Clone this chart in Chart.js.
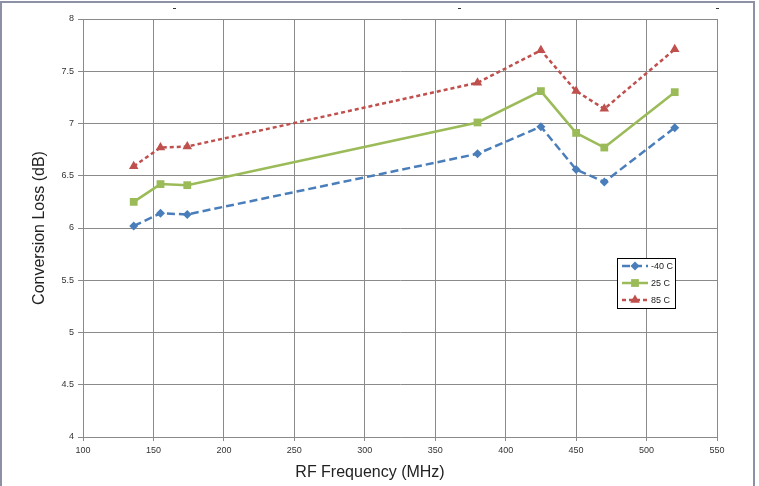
<!DOCTYPE html>
<html>
<head>
<meta charset="utf-8">
<script src="https://cdn.jsdelivr.net/npm/chart.js@4.4.1/dist/chart.umd.min.js"></script>
<style>
  html, body { margin: 0; padding: 0; background: #fff; }
  #wrap { width: 759px; height: 486px; position: relative; }
</style>
</head>
<body>
<div id="wrap"><canvas id="myChart"></canvas></div>
<script>
// values
const freqs = [136, 155, 174, 380, 425, 450, 470, 520];
const lossCold = [6.02, 6.14, 6.13, 6.71, 6.97, 6.56, 6.44, 6.96];
const lossRoom = [6.25, 6.42, 6.41, 7.01, 7.31, 6.91, 6.77, 7.30];
const lossHot = [6.59, 6.77, 6.78, 7.39, 7.70, 7.31, 7.14, 7.71];
const seriesLabels = ["-40 C", "25 C", "85 C"];
const xTicks = [100, 150, 200, 250, 300, 350, 400, 450, 500, 550];
const yTicks = [4, 4.5, 5, 5.5, 6, 6.5, 7, 7.5, 8];
const xTitle = "RF Frequency (MHz)";
const yTitle = "Conversion Loss (dB)";

const toPoints = (vals) => freqs.map((f, i) => ({ x: f, y: vals[i] }));

// gray frame round the picture
const framePlugin = {
  id: "frame",
  afterDraw(chart) {
    const ctx = chart.ctx;
    ctx.save();
    ctx.fillStyle = "#8c91a6";
    ctx.fillRect(0, 1, 755, 2);
    ctx.fillRect(0, 1, 2, 485);
    ctx.fillRect(753, 1, 2, 485);
    ctx.fillStyle = "#333";
    ctx.fillRect(173, 8, 3, 1);
    ctx.fillRect(458, 8, 3, 1);
    ctx.fillRect(716, 8, 3, 1);
    ctx.restore();
  }
};

// x axis title, sits a bit left of centre like the original
const xTitlePlugin = {
  id: "xTitle",
  afterDraw(chart) {
    const ctx = chart.ctx;
    const area = chart.chartArea;
    ctx.save();
    ctx.font = "16px 'Liberation Sans', Arial, sans-serif";
    ctx.fillStyle = "#222";
    ctx.textAlign = "center";
    ctx.textBaseline = "middle";
    ctx.fillText(xTitle, (area.left + area.right) / 2 - 30, 473);
    ctx.restore();
  }
};

// boxed legend inside the plot
const boxLegend = {
  id: "boxLegend",
  afterDraw(chart) {
    const ctx = chart.ctx;
    const bx = 617, by = 258, bw = 58, bh = 50;
    ctx.save();
    ctx.fillStyle = "#fff";
    ctx.fillRect(bx, by, bw, bh);
    ctx.strokeStyle = "#000";
    ctx.lineWidth = 1;
    ctx.strokeRect(bx + 0.5, by + 0.5, bw, bh);
    chart.data.datasets.forEach((ds, i) => {
      const y = by + 8 + i * 17;
      ctx.strokeStyle = ds.borderColor;
      ctx.lineWidth = 2.5;
      ctx.setLineDash(ds.borderDash || []);
      ctx.beginPath();
      ctx.moveTo(bx + 5, y);
      ctx.lineTo(bx + 31, y);
      ctx.stroke();
      ctx.setLineDash([]);
      ctx.fillStyle = ds.backgroundColor;
      ctx.strokeStyle = ds.backgroundColor;
      Chart.helpers.drawPoint(ctx, {
        pointStyle: ds.pointStyle,
        rotation: 0,
        radius: ds.pointRadius,
        borderWidth: 0
      }, bx + 18, y);
      ctx.fillStyle = "#222";
      ctx.font = "9px 'Liberation Sans', Arial, sans-serif";
      ctx.textBaseline = "middle";
      ctx.textAlign = "left";
      ctx.fillText(ds.label, bx + 34, y + 0.5);
    });
    ctx.restore();
  }
};

const tickFont = { family: "'Liberation Sans', Arial, sans-serif", size: 9 };

new Chart(document.getElementById("myChart"), {
  type: "line",
  data: {
    datasets: [
      {
        label: seriesLabels[0],
        data: toPoints(lossCold),
        borderColor: "#4a7ebb",
        backgroundColor: "#4a7ebb",
        borderWidth: 2.5,
        borderDash: [8, 4],
        pointStyle: "rectRot",
        pointRadius: 4.5,
        pointBorderWidth: 0,
        tension: 0
      },
      {
        label: seriesLabels[1],
        data: toPoints(lossRoom),
        borderColor: "#9bbb59",
        backgroundColor: "#9bbb59",
        borderWidth: 2.5,
        pointStyle: "rect",
        pointRadius: 5.5,
        pointBorderWidth: 0,
        tension: 0
      },
      {
        label: seriesLabels[2],
        data: toPoints(lossHot),
        borderColor: "#c0504d",
        backgroundColor: "#c0504d",
        borderWidth: 2.5,
        borderDash: [4, 3],
        pointStyle: "triangle",
        pointRadius: 5.5,
        pointBorderWidth: 0,
        tension: 0
      }
    ]
  },
  options: {
    responsive: true,
    maintainAspectRatio: false,
    animation: false,
    layout: { padding: { left: 0, top: 19, right: 42, bottom: 0 } },
    plugins: {
      legend: { display: false },
      tooltip: { enabled: false }
    },
    scales: {
      x: {
        type: "linear",
        min: xTicks[0],
        max: xTicks[xTicks.length - 1],
        afterBuildTicks: (s) => { s.ticks = xTicks.map((v) => ({ value: v })); },
        afterFit: (s) => { s.height = 49; },
        grid: { color: "#8a8a8a", lineWidth: 1, tickLength: 4 },
        border: { color: "#8a8a8a" },
        ticks: { font: tickFont, color: "#333", padding: 4, maxRotation: 0, callback: (v) => String(v) }
      },
      y: {
        type: "linear",
        min: yTicks[0],
        max: yTicks[yTicks.length - 1],
        afterBuildTicks: (s) => { s.ticks = yTicks.map((v) => ({ value: v })); },
        afterFit: (s) => { s.width = 83; },
        grid: { color: "#8a8a8a", lineWidth: 1, tickLength: 5 },
        border: { color: "#8a8a8a" },
        ticks: { font: tickFont, color: "#333", padding: 4, callback: (v) => String(v) },
        title: {
          display: true,
          text: yTitle,
          color: "#222",
          font: { family: "'Liberation Sans', Arial, sans-serif", size: 16 },
          padding: { top: 30, bottom: 0 }
        }
      }
    }
  },
  plugins: [framePlugin, xTitlePlugin, boxLegend]
});
</script>
</body>
</html>
